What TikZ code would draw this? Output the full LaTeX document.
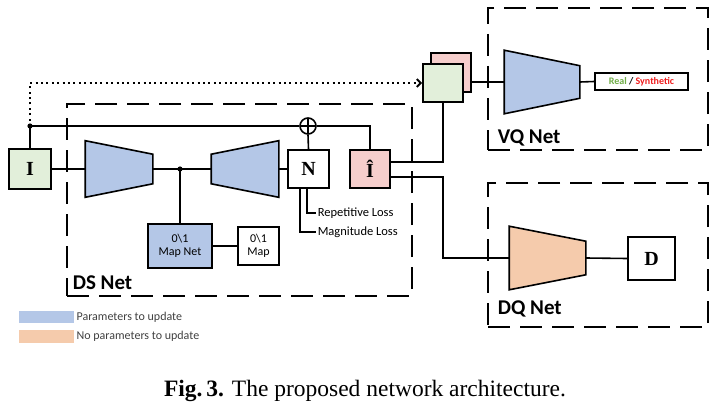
\documentclass[tikz,border=0pt]{standalone}
\usepackage{fontspec}
\setmainfont{Liberation Serif}
\newfontfamily\carlito{Carlito}
\usetikzlibrary{arrows.meta, calc}
\definecolor{inputgreen}{RGB}{226, 239, 218}
\definecolor{outpink}{RGB}{246, 206, 204}
\definecolor{updblue}{RGB}{180, 199, 231}
\definecolor{fixorange}{RGB}{245, 203, 172}
\definecolor{realgreen}{RGB}{112, 173, 71}
\definecolor{synred}{RGB}{240, 30, 30}

\begin{document}
\begin{tikzpicture}[x=1pt, y=-1pt, line width=1.6pt,
    box/.style={draw, line width=1.6pt, inner sep=0pt, font=\bfseries\fontsize{20}{20}\selectfont},
    group/.style={draw, dash pattern=on 22pt off 10pt, line width=1.8pt, inner sep=0pt},
    grouplabel/.style={font=\carlito\bfseries\fontsize{21}{21}\selectfont, anchor=base west, inner sep=0pt},
    small/.style={font=\carlito\fontsize{12}{13}\selectfont, inner sep=1pt},
    trap/.style={inner sep=0pt}]

    \useasboundingbox (0,0) rectangle (720,412);

    % Network groups
    \node[group, minimum width=345pt, minimum height=192pt] (ds) at (239.5,200) {};
    \node[group, minimum width=220pt, minimum height=142pt] (vqg) at (598,79) {};
    \node[group, minimum width=220pt, minimum height=144pt] (dqg) at (598,255) {};
    \node[grouplabel] at (72,289) {DS Net};
    \node[grouplabel] at (497,143) {VQ Net};
    \node[grouplabel] at (497,314) {DQ Net};

    % Boxes
    \node[box, fill=inputgreen, minimum width=42pt, minimum height=40pt] (I) at (30,169) {I};
    \node[box, fill=white, minimum width=41pt, minimum height=38pt] (N) at (308.5,169) {N};
    \node[box, fill=outpink, minimum width=40pt, minimum height=38pt] (Ihat) at (370,169) {Î};
    \node[box, fill=white, minimum width=47pt, minimum height=43pt] (D) at (651.5,258.5) {D};
    \node[box, fill=outpink, minimum width=40pt, minimum height=39pt] (back) at (451,72.5) {};
    \node[box, fill=inputgreen, minimum width=40pt, minimum height=38pt] (front) at (443,83) {};
    \node[box, small, fill=updblue, minimum width=64pt, minimum height=44pt, align=center] (mapnet) at (180,246) {0\textbackslash1\\Map Net};
    \node[box, small, fill=white, minimum width=41pt, minimum height=38pt, align=center] (map) at (258.5,246) {0\textbackslash1\\Map};
    \node[box, fill=white, minimum width=93pt, minimum height=17pt, font=\carlito\bfseries\fontsize{10}{10}\selectfont] (rs) at (641.5,81.5) {{\color{realgreen}Real} / {\color{synred}Synthetic}};
    \node[draw, circle, minimum size=16pt, inner sep=0pt,
        path picture={\draw (path picture bounding box.north) -- (path picture bounding box.south)
            (path picture bounding box.west) -- (path picture bounding box.east);}] (plus) at (308,126) {};

    % Trapezoids
    \node[trap, minimum width=66pt, minimum height=55pt] (enc) at (119,169) {};
    \node[trap, minimum width=66pt, minimum height=55pt] (dec) at (245,169) {};
    \node[trap, minimum width=74pt, minimum height=62pt] (vq) at (542,82) {};
    \node[trap, minimum width=75pt, minimum height=62pt] (dq) at (547.5,258) {};
    \draw[fill=updblue] (enc.north west) -- ($(enc.north east)+(0pt,-13.5pt)$) -- ($(enc.south east)+(0pt,13.5pt)$) -- (enc.south west) -- cycle;
    \draw[fill=updblue] ($(dec.north west)+(0pt,-13.5pt)$) -- (dec.north east) -- (dec.south east) -- ($(dec.south west)+(0pt,13.5pt)$) -- cycle;
    \draw[fill=updblue] (vq.north west) -- ($(vq.north east)+(0pt,-15.5pt)$) -- ($(vq.south east)+(0pt,15.5pt)$) -- (vq.south west) -- cycle;
    \draw[fill=fixorange] (dq.north west) -- ($(dq.north east)+(0pt,-15pt)$) -- ($(dq.south east)+(0pt,15pt)$) -- (dq.south west) -- cycle;

    % Losses
    \node[small, font=\carlito\fontsize{12.5}{13}\selectfont, anchor=west] (rep) at (316,213) {Repetitive Loss};
    \node[small, font=\carlito\fontsize{12.5}{13}\selectfont, anchor=west] (mag) at (316,232) {Magnitude Loss};

    % Main path
    \draw (I.east) -- (enc.west);
    \draw (enc.east) -- (dec.west);
    \draw (dec.east) -- (N.west);
    \coordinate (fork) at (mapnet.north |- enc.east);
    \fill (fork) circle (2.6pt);
    \draw (fork) -- (mapnet.north);
    \draw (mapnet.east) -- (map.west);
    \draw ($(N.south)+(-1.5pt,0pt)$) |- (rep.west);
    \draw ($(N.south)+(-8.5pt,0pt)$) |- (mag.west);

    % Skip connection
    \coordinate (tap) at (I.north |- plus.west);
    \fill (tap) circle (2.6pt);
    \draw (I.north) -- (tap) -- (plus.west);
    \draw (N.north) -- (plus.south);
    \draw (plus.east) -| (Ihat.north);
    \draw[line width=2pt, dash pattern=on 2pt off 3.4pt, -{Straight Barb[length=4pt, width=8pt]}] (tap) |- (front.west);

    % Outputs to VQ and DQ
    \coordinate (upout) at ($(Ihat.east)+(0pt,7pt)$);
    \coordinate (lowout) at ($(Ihat.east)+(0pt,-8pt)$);
    \draw (upout) -| (front.south);
    \draw (lowout) -- (lowout -| front.south) |- (dq.west);
    \draw (vq.west -| back.east) -- (vq.west);
    \draw (vq.east) -- (rs.west);
    \draw (dq.east) -- (D.west);

    % Legend
    \node[fill=updblue, minimum width=55pt, minimum height=12pt, inner sep=0pt] (legupd) at (46.5,317) {};
    \node[fill=fixorange, minimum width=55pt, minimum height=13pt, inner sep=0pt] (legfix) at (46.5,336.5) {};
    \node[small, anchor=west, text=black!75] at (legupd.east) {Parameters to update};
    \node[small, anchor=west, text=black!75] at (legfix.east) {No parameters to update};

    % Caption
    \node[font=\fontsize{23.5}{25}\selectfont, inner sep=0pt] (caption) at (365,391) {\textbf{Fig.\,3.} The proposed network architecture.};
\end{tikzpicture}
\end{document}
